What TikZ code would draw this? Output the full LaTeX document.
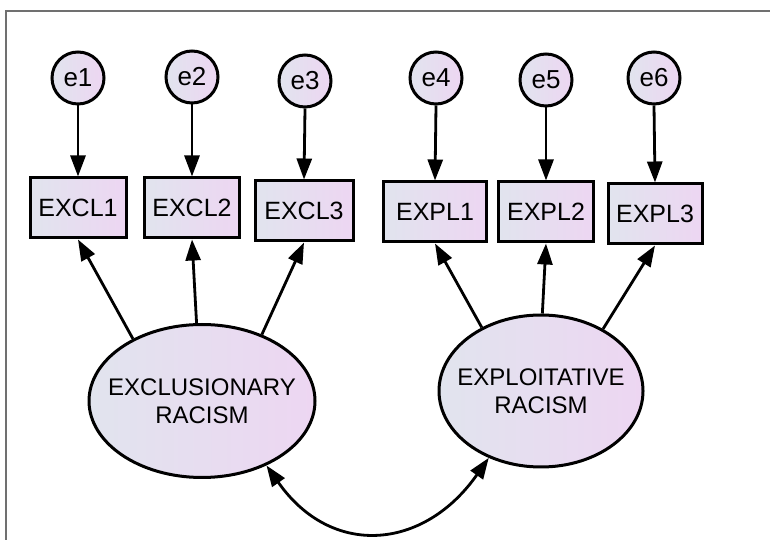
\documentclass[tikz,border=0pt]{standalone}
\usepackage{fontspec}
\setmainfont{Liberation Sans}
\usepackage{xcolor}
\usepackage{tikz}
\usetikzlibrary{
  arrows.meta,
  shapes.geometric
}
\definecolor{FillLeft}{HTML}{E1E4EE}
\definecolor{FillRight}{HTML}{EDD6F2}
\definecolor{FrameGray}{HTML}{707070}
\tikzset{
  shaded/.style={
    draw=black,
    line width=3pt,
    left color=FillLeft,
    right color=FillRight,
    align=center,
    inner sep=0pt
  },
  errorterm/.style={
    shaded,
    circle,
    minimum size=52pt,
    font=\fontsize{26}{28}\selectfont
  },
  indicator/.style={
    shaded,
    rectangle,
    minimum height=60pt,
    font=\fontsize{25}{27}\selectfont
  },
  latent/.style={
    shaded,
    ellipse,
    inner sep=-20pt,
    font=\fontsize{24}{28}\selectfont
  },
  loading/.style={
    -{Triangle[length=21pt,width=15pt]},
    line width=2.8pt
  },
  covariance/.style={
    {Triangle[length=21pt,width=15pt]}-{Triangle[length=21pt,width=15pt]},
    line width=2.8pt
  }
}

\begin{document}
\begin{tikzpicture}[
  x=1pt,
  y=1pt
]

  \useasboundingbox (0,0) rectangle (770,540);
  \draw[FrameGray, line width=1.6pt] (6,0) -- (6,529) -- (770,529);

  % error terms
  \node[errorterm] (e1) at (78,462) {e1};
  \node[errorterm] (e2) at (192,463) {e2};
  \node[errorterm] (e3) at (305,459) {e3};
  \node[errorterm] (e4) at (436,462) {e4};
  \node[errorterm] (e5) at (546,460) {e5};
  \node[errorterm] (e6) at (654,462) {e6};

  % observed variables
  \node[indicator, minimum width=96pt] (excl1) at (78,332) {EXCL1};
  \node[indicator, minimum width=95pt] (excl2) at (192,332) {EXCL2};
  \node[indicator, minimum width=98pt] (excl3) at (304,329) {EXCL3};
  \node[indicator, minimum width=103pt] (expl1) at (435,328) {EXPL1};
  \node[indicator, minimum width=95pt] (expl2) at (546,328) {EXPL2};
  \node[indicator, minimum width=94pt] (expl3) at (655,326) {EXPL3};

  % latent variables
  \node[
    latent,
    minimum width=226pt,
    minimum height=153pt
  ] (exclusionary) at (202,139) {
    EXCLUSIONARY\\
    RACISM
  };

  \node[
    latent,
    minimum width=204pt,
    minimum height=152pt
  ] (exploitative) at (541,149) {
    EXPLOITATIVE\\
    RACISM
  };

  \draw[loading] (e1.south) -- (excl1.north);
  \draw[loading] (e2.south) -- (excl2.north);
  \draw[loading] (e3.south) -- (excl3.north);
  \draw[loading] (e4.south) -- (expl1.north);
  \draw[loading] (e5.south) -- (expl2.north);
  \draw[loading] (e6.south) -- (expl3.north);

  \draw[loading] (exclusionary.138) -- (excl1.south);
  \draw[loading] (exclusionary.94) -- (excl2.south);
  \draw[loading] (exclusionary.48) -- (excl3.south);
  \draw[loading] (exploitative.133) -- (expl1.south);
  \draw[loading] (exploitative.89) -- (expl2.south);
  \draw[loading] (exploitative.45) -- (expl3.south);

  \draw[covariance]
  (exclusionary.-45) to[out=-55, in=-125, looseness=1.3]
  (exploitative.232);

\end{tikzpicture}
\end{document}
